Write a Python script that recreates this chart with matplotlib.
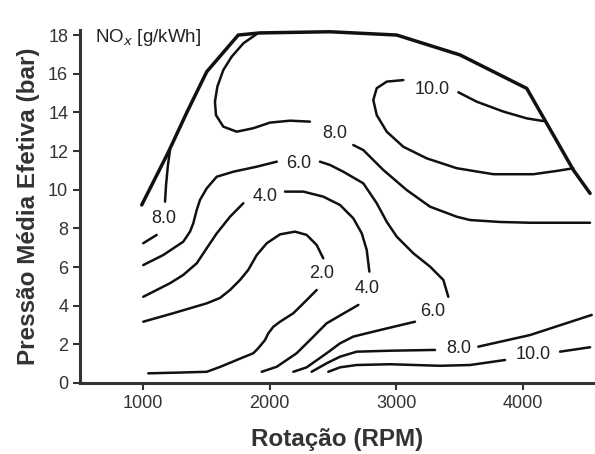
import matplotlib.pyplot as plt

plt.rcParams['font.family'] = ['Liberation Sans', 'DejaVu Sans']

# curva de plena carga (limite do mapa)
limite_rpm = [990, 1197, 1350, 1503, 1752, 1924, 2476, 3003, 3503, 4029, 4187, 4397, 4529]
limite_bar = [9.21, 11.90, 14.05, 16.10, 18.00, 18.11, 18.17, 18.00, 16.97, 15.24, 13.43, 11.02, 9.81]

# NOx = 2.0
c2a_rpm = [1002, 1239, 1503, 1608, 1687, 1766, 1831, 1898, 1977, 2082, 2200, 2292, 2371, 2423]
c2a_bar = [3.17, 3.61, 4.12, 4.40, 4.81, 5.33, 5.85, 6.62, 7.23, 7.69, 7.83, 7.66, 7.14, 6.45]
c2b_rpm = [2371, 2266, 2187, 2082, 2029, 1989, 1963, 1910, 1871, 1740, 1608, 1503, 1292, 1042]
c2b_bar = [4.81, 4.12, 3.61, 3.17, 2.91, 2.57, 2.22, 1.80, 1.54, 1.19, 0.83, 0.58, 0.54, 0.50]

# NOx = 4.0
c4a_rpm = [1002, 1213, 1318, 1424, 1503, 1582, 1687, 1792]
c4a_bar = [4.46, 5.16, 5.59, 6.19, 6.97, 7.74, 8.60, 9.30]
c4b_rpm = [2121, 2266, 2423, 2555, 2660, 2727, 2766, 2787]
c4b_bar = [9.90, 9.90, 9.64, 9.21, 8.52, 7.74, 6.88, 5.76]
c4c_rpm = [2700, 2450, 2318, 2213, 2056, 1937]
c4c_bar = [4.04, 3.09, 2.22, 1.54, 0.84, 0.58]

# NOx = 6.0
c6a_rpm = [1002, 1160, 1318, 1371, 1397, 1424, 1450, 1503, 1582, 1713, 1898, 2056]
c6a_bar = [6.10, 6.62, 7.31, 7.83, 8.26, 8.95, 9.47, 10.07, 10.67, 10.93, 11.19, 11.45]
c6b_rpm = [2397, 2476, 2581, 2739, 2845, 2924, 3003, 3134, 3266, 3371, 3410]
c6b_bar = [11.45, 11.28, 10.93, 10.33, 9.30, 8.34, 7.57, 6.71, 6.02, 5.33, 4.46]
c6c_rpm = [3147, 2871, 2660, 2555, 2450, 2292, 2187]
c6c_bar = [3.17, 2.74, 2.40, 2.05, 1.54, 0.81, 0.58]

# NOx = 8.0
c8a_rpm = [1002, 1108]
c8a_bar = [7.23, 7.66]
c8b_rpm = [1174, 1182, 1197, 1213]
c8b_bar = [9.38, 10.24, 11.28, 12.05]
c8c_rpm = [1897, 1792, 1700, 1634, 1587, 1568, 1576, 1634, 1740, 1871, 2003, 2161, 2318]
c8c_bar = [18.05, 17.57, 16.88, 16.19, 15.33, 14.55, 13.86, 13.26, 13.00, 13.18, 13.47, 13.57, 13.52]
c8d_rpm = [2660, 2739, 2897, 3082, 3266, 3477, 3582, 3818, 4055, 4529]
c8d_bar = [12.31, 12.05, 11.02, 9.98, 9.12, 8.60, 8.43, 8.33, 8.29, 8.29]
c8e_rpm = [2331, 2450, 2555, 2687, 2950, 3305]
c8e_bar = [0.58, 1.02, 1.36, 1.62, 1.67, 1.71]
c8f_rpm = [3647, 4055, 4542]
c8f_bar = [1.88, 2.48, 3.52]

# NOx = 10.0
c10a_rpm = [3055, 2924, 2845, 2818, 2845, 2924, 3055, 3240, 3477, 3766, 4081, 4266, 4397]
c10a_bar = [15.67, 15.59, 15.25, 14.64, 13.86, 13.00, 12.22, 11.62, 11.11, 10.80, 10.80, 10.97, 11.11]
c10b_rpm = [3489, 3635, 3845, 4029, 4160]
c10b_bar = [15.04, 14.55, 14.04, 13.69, 13.55]
c10c_rpm = [2463, 2555, 2687, 2950, 3345, 3582, 3858]
c10c_bar = [0.58, 0.81, 0.93, 0.97, 0.89, 0.93, 1.19]
c10d_rpm = [4292, 4529]
c10d_bar = [1.62, 1.85]

fig = plt.figure(figsize=(5.95, 4.54), dpi=100)
ax = fig.add_axes([0.1345, 0.1564, 0.8655, 0.7775])

ax.plot(limite_rpm, limite_bar, color='#111111', lw=2.5, solid_capstyle='round')
segmentos = [
    (c2a_rpm, c2a_bar), (c2b_rpm, c2b_bar),
    (c4a_rpm, c4a_bar), (c4b_rpm, c4b_bar), (c4c_rpm, c4c_bar),
    (c6a_rpm, c6a_bar), (c6b_rpm, c6b_bar), (c6c_rpm, c6c_bar),
    (c8a_rpm, c8a_bar), (c8b_rpm, c8b_bar), (c8c_rpm, c8c_bar),
    (c8d_rpm, c8d_bar), (c8e_rpm, c8e_bar), (c8f_rpm, c8f_bar),
    (c10a_rpm, c10a_bar), (c10b_rpm, c10b_bar), (c10c_rpm, c10c_bar),
    (c10d_rpm, c10d_bar),
]
for xs, ys in segmentos:
    ax.plot(xs, ys, color='#111111', lw=1.8, solid_capstyle='round', solid_joinstyle='round')

# rotulos das isolinhas
rotulos = [
    ('8.0', 1160, 8.52), ('8.0', 2516, 12.93), ('10.0', 3279, 15.16),
    ('6.0', 2226, 11.37), ('4.0', 1963, 9.64), ('2.0', 2411, 5.68),
    ('4.0', 2766, 4.90), ('6.0', 3290, 3.69), ('8.0', 3489, 1.79),
    ('10.0', 4079, 1.45),
]
for txt, x, y in rotulos:
    ax.text(x, y, txt, ha='center', va='center', fontsize=13, color='#222222')

ax.text(621, 17.85, r'NO$_{x}$ [g/kWh]', ha='left', va='center', fontsize=13.5, color='#222222')

ax.set_xlim(503, 4568)
ax.set_ylim(0, 18.26)
ax.set_xticks([1000, 2000, 3000, 4000])
ax.set_yticks(range(0, 19, 2))
ax.tick_params(labelsize=13, colors='#333333', length=5, width=1.5)
for s in ['top', 'right']:
    ax.spines[s].set_visible(False)
for s in ['left', 'bottom']:
    ax.spines[s].set_linewidth(2.2)
    ax.spines[s].set_color('#333333')

ax.set_xlabel('Rotação (RPM)', fontsize=17.5, fontweight='bold', color='#333333', labelpad=12)
ax.set_ylabel('Pressão Média Efetiva (bar)', fontsize=17.5, fontweight='bold', color='#333333', labelpad=6)

fig.savefig('out.png', dpi=100)
